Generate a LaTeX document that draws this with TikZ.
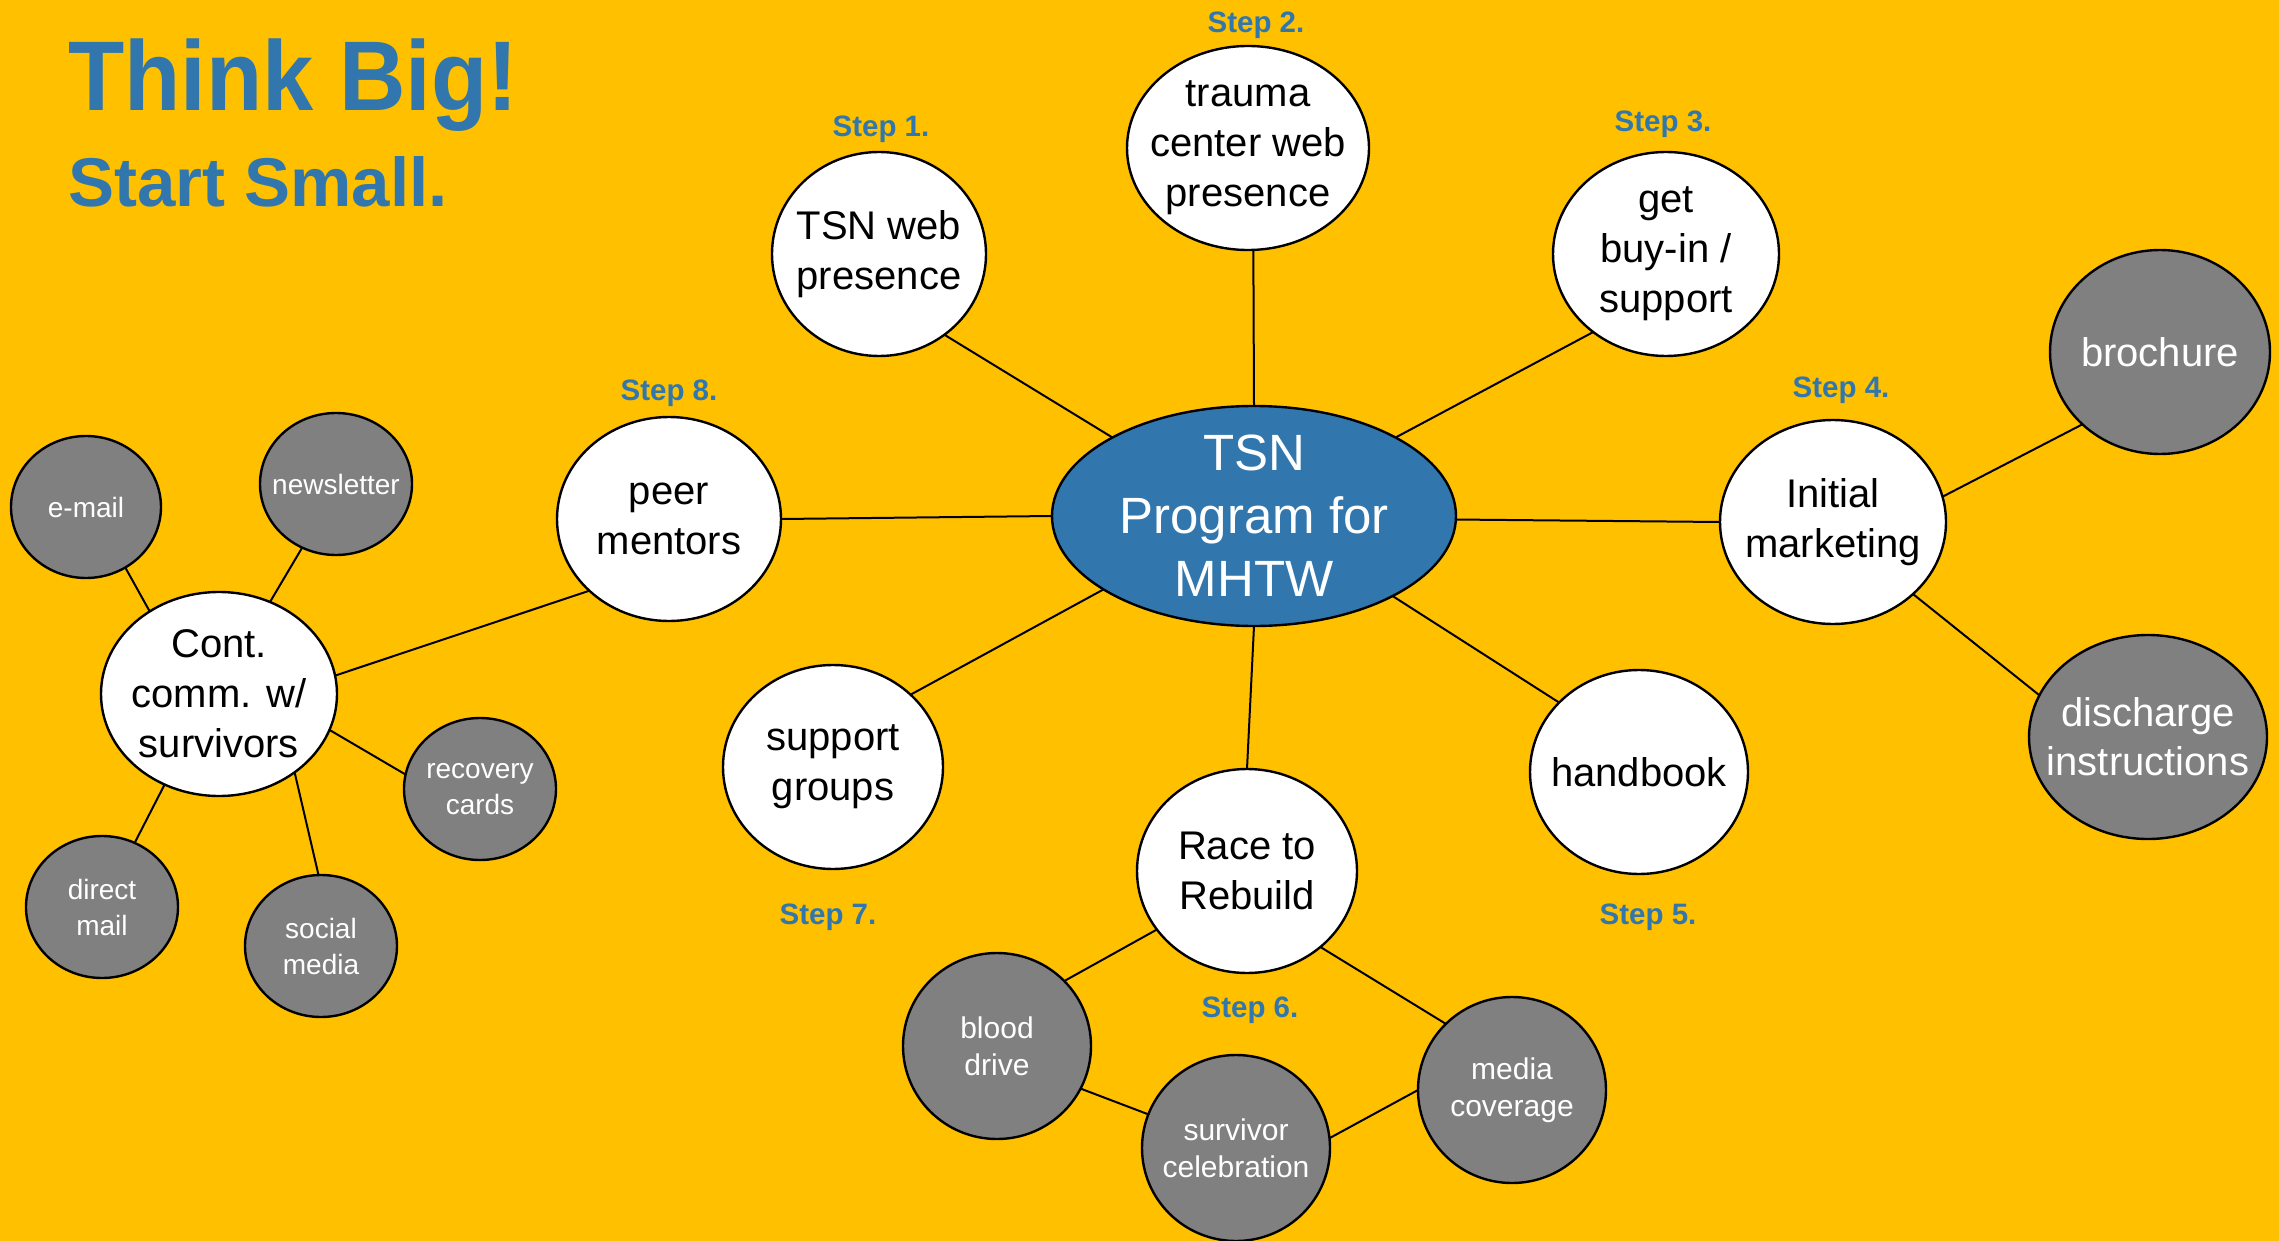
\documentclass[tikz,border=0pt]{standalone}
\usepackage{fontspec}
\setmainfont{Liberation Sans}
\newfontfamily\headfont[FakeStretch=0.93]{Liberation Sans}
\usetikzlibrary{shapes.geometric}

\definecolor{bgyellow}{RGB}{255,192,0}
\definecolor{tsnblue}{RGB}{49,119,173}
\definecolor{bubgrey}{RGB}{128,128,128}

% #1 name, #2 shape style, #3 text style, #4 x, #5 y, #6 rx, #7 ry, #8 text
\newcommand\bubble[8]{%
  \node[#2, minimum width=2*#6pt, minimum height=2*#7pt] (#1) at (#4,#5) {};
  \node[#3] (#1-t) at (#1.center) {#8};}

\begin{document}
\begin{tikzpicture}[x=1pt, y=-1pt,
  bub/.style={ellipse, draw=black, line width=2.4pt, inner sep=0pt, outer sep=0pt},
  whitebub/.style={bub, fill=white},
  greybub/.style={bub, fill=bubgrey},
  hubbub/.style={bub, fill=tsnblue},
  wtext/.style={align=center, text=black, inner sep=0pt, font=\fontsize{40}{50}\selectfont},
  hubtext/.style={align=center, text=white, inner sep=0pt, font=\fontsize{51}{63}\selectfont},
  gbigtext/.style={align=center, text=white, inner sep=0pt, font=\fontsize{40}{49}\selectfont},
  gmidtext/.style={align=center, text=white, inner sep=0pt, font=\fontsize{30}{37}\selectfont},
  gsmalltext/.style={align=center, text=white, inner sep=0pt, font=\fontsize{28}{36}\selectfont},
  steplabel/.style={text=tsnblue, inner sep=0pt, font=\bfseries\fontsize{29.5}{33}\selectfont},
  link/.style={draw=black, line width=2pt}]

\fill[bgyellow] (0,0) rectangle (2279,1241);
\useasboundingbox (0,0) rectangle (2279,1241);

% heading
\node[anchor=base west, inner sep=0pt, text=tsnblue, font=\headfont\bfseries\fontsize{99}{110}\selectfont] (head) at (68,111) {Think Big!};
\node[anchor=base west, inner sep=0pt, text=tsnblue, font=\bfseries\fontsize{69}{80}\selectfont] (subhead) at (68,207) {Start Small.};

% hub and steps
\bubble{hub}{hubbub}{hubtext}{1254}{516}{202}{110}{TSN\\Program for\\MHTW}
\bubble{web}{whitebub}{wtext}{879}{254}{107}{102}{TSN web\\presence}
\bubble{trauma}{whitebub}{wtext}{1248}{148}{121}{102}{trauma\\center web\\presence}
\bubble{buyin}{whitebub}{wtext}{1666}{254}{113}{102}{get\\buy-in /\\support}
\bubble{market}{whitebub}{wtext}{1833}{522}{113}{102}{Initial\\marketing}
\bubble{handbook}{whitebub}{wtext}{1639}{772}{109}{102}{handbook}
\bubble{race}{whitebub}{wtext}{1247}{871}{110}{102}{Race to\\Rebuild}
\bubble{support}{whitebub}{wtext}{833}{767}{110}{102}{support\\groups}
\bubble{peer}{whitebub}{wtext}{669}{519}{112}{102}{peer\\mentors}
\bubble{cont}{whitebub}{wtext}{219}{694}{118}{102}{Cont.\\comm. w/\\survivors}

% marketing items
\bubble{brochure}{greybub}{gbigtext}{2160}{352}{110}{102}{brochure}
\bubble{discharge}{greybub}{gbigtext}{2148}{737}{119}{102}{discharge\\instructions}

% Race to Rebuild items
\bubble{blood}{greybub}{gmidtext}{997}{1046}{94}{93}{blood\\drive}
\bubble{celebr}{greybub}{gmidtext}{1236}{1148}{94}{93}{survivor\\celebration}
\bubble{media}{greybub}{gmidtext}{1512}{1090}{94}{93}{media\\coverage}

% survivor communication channels
\bubble{email}{greybub}{gsmalltext}{86}{507}{75}{71}{e-mail}
\bubble{newsletter}{greybub}{gsmalltext}{336}{484}{76}{71}{newsletter}
\bubble{recovery}{greybub}{gsmalltext}{480}{789}{76}{71}{recovery\\cards}
\bubble{social}{greybub}{gsmalltext}{321}{946}{76}{71}{social\\media}
\bubble{direct}{greybub}{gsmalltext}{102}{907}{76}{71}{direct\\mail}

% connectors, border to border
\draw[link] (hub.151) -- (web.309);
\draw[link] (hub.90) -- (trauma.273);
\draw[link] (hub.29) -- (buyin.227);
\draw[link] (hub.359) -- (market.180);
\draw[link] (hub.330) -- (handbook.139);
\draw[link] (hub.270) -- (race.90);
\draw[link] (hub.206) -- (support.43);
\draw[link] (hub.180) -- (peer.0);
\draw[link] (peer.222) -- (cont.9);
\draw[link] (market.13) -- (brochure.223);
\draw[link] (market.318) -- (discharge.159);
\draw[link] (race.213) -- (blood.44);
\draw[link] (race.314) -- (media.135);
\draw[link] (blood.333) -- (celebr.159);
\draw[link] (celebr.6) -- (media.180);
\draw[link] (cont.130) -- (email.303);
\draw[link] (cont.61) -- (newsletter.242);
\draw[link] (cont.342) -- (recovery.169);
\draw[link] (cont.314) -- (social.92);
\draw[link] (cont.239) -- (direct.63);

% step labels
\node[steplabel] (s1) at (881,129) {Step 1.};
\node[steplabel] (s2) at (1256,25) {Step 2.};
\node[steplabel] (s3) at (1663,124) {Step 3.};
\node[steplabel] (s4) at (1841,390) {Step 4.};
\node[steplabel] (s5) at (1648,917) {Step 5.};
\node[steplabel] (s6) at (1250,1010) {Step 6.};
\node[steplabel] (s7) at (828,917) {Step 7.};
\node[steplabel] (s8) at (669,393) {Step 8.};
\end{tikzpicture}
\end{document}
